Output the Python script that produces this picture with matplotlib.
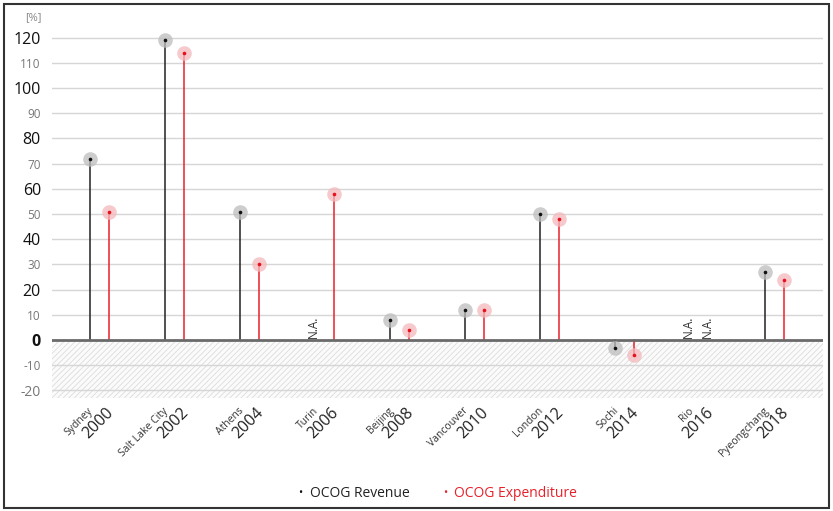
import numpy as np
import matplotlib
matplotlib.use("Agg")
import matplotlib.pyplot as plt
from matplotlib.patches import Rectangle

plt.rcParams['font.family'] = ['Open Sans', 'DejaVu Sans']
plt.rcParams['hatch.linewidth'] = 0.6

cities = ["Sydney", "Salt Lake City", "Athens", "Turin", "Beijing",
          "Vancouver", "London", "Sochi", "Rio", "Pyeongchang"]
years = ["2000", "2002", "2004", "2006", "2008", "2010", "2012", "2014", "2016", "2018"]
revenue = [72, 119, 51, None, 8, 12, 50, -3, None, 27]
expenditure = [51, 114, 30, 58, 4, 12, 48, -6, None, 24]
yticks = list(range(-20, 121, 10))

fig = plt.figure(figsize=(8.33, 5.11), dpi=100)
ax = fig.add_axes([52/833, (511-398)/511, (823-52)/833, (398-22.5)/511])

ylo, yhi = -23, 126
ax.set_ylim(ylo, yhi)
ax.set_xlim(-0.633, 9.647)

# hatched negative region
ax.axhspan(ylo, 0, facecolor='#fbfbfb', edgecolor='#dcdcdc', hatch='//////', linewidth=0, zorder=0)

for t in yticks:
    if t != 0:
        ax.axhline(t, color='#d6d6d6', lw=1.0, zorder=1)
ax.axhline(0, color='#6a6a6a', lw=2.0, zorder=3)

off = 0.127
rev_color = '#222222'
exp_color = '#e8202a'
px2pt = 72 / 100
for i in range(len(cities)):
    xr = i - off
    xe = i + off
    r = revenue[i]
    e = expenditure[i]
    if r is None:
        ax.text(xr - 0.02, 0.8, "N.A.", rotation=90, ha='center', va='bottom',
                fontsize=8.5, color='#333333', zorder=4)
    else:
        ax.plot([xr, xr], [0, r], color=rev_color, lw=1.1, zorder=2)
        ax.plot(xr, r, 'o', ms=10.5, color='#bdbdbd', alpha=0.75, mec='none', zorder=4)
        ax.plot(xr, r, 'o', ms=2.6, color='#111111', mec='none', zorder=5)
    if e is None:
        ax.text(xe - 0.02, 0.8, "N.A.", rotation=90, ha='center', va='bottom',
                fontsize=8.5, color='#333333', zorder=4)
    else:
        ax.plot([xe, xe], [0, e], color=exp_color, lw=1.1, zorder=2)
        ax.plot(xe, e, 'o', ms=10.5, color='#f4b8bb', alpha=0.75, mec='none', zorder=4)
        ax.plot(xe, e, 'o', ms=2.6, color='#e8101c', mec='none', zorder=5)

    # x labels: two rotated lines, city (small) above year (large), right-aligned
    ax.annotate(years[i], xy=(i, 0), xycoords=('data', 'axes fraction'),
                xytext=(15 * px2pt, -15 * px2pt), textcoords='offset points', rotation=45,
                rotation_mode='anchor', ha='right', va='baseline',
                fontsize=11.5, color='#222222', annotation_clip=False)
    ax.annotate(cities[i], xy=(i, 0), xycoords=('data', 'axes fraction'),
                xytext=(-6 * px2pt, -13 * px2pt), textcoords='offset points', rotation=45,
                rotation_mode='anchor', ha='right', va='baseline',
                fontsize=7.5, color='#333333', annotation_clip=False)

ax.set_xticks([])
ax.set_yticks(yticks)
ax.set_yticklabels([str(t) for t in yticks])
for t, lab in zip(yticks, ax.get_yticklabels()):
    if t % 20 == 0 and t >= 0:
        lab.set_fontsize(11.5)
        lab.set_color('#111111')
        if t == 0:
            lab.set_fontweight('bold')
    elif t % 20 == 0:
        lab.set_fontsize(10)
        lab.set_color('#777777')
    else:
        lab.set_fontsize(8.5)
        lab.set_color('#777777')
ax.tick_params(axis='y', length=0, pad=8)
for s in ax.spines.values():
    s.set_visible(False)

fig.text(42/833, 1 - 18/511, "[%]", ha='right', va='center', fontsize=8, color='#888888')

# legend
fig.text(300/833, 1 - 493/511, "•", ha='center', va='center', fontsize=8, color='#111111')
fig.text(310/833, 1 - 493/511, "OCOG Revenue", ha='left', va='center', fontsize=10, color='#222222')
fig.text(445/833, 1 - 493/511, "•", ha='center', va='center', fontsize=8, color='#e8202a')
fig.text(454/833, 1 - 493/511, "OCOG Expenditure", ha='left', va='center', fontsize=10, color='#e8202a')

# outer border
fig.patches.append(Rectangle((4/833, 3/511), 825/833, 504/511, transform=fig.transFigure,
                             fill=False, edgecolor='#333333', lw=1.5))

fig.savefig("out.png", dpi=100)
